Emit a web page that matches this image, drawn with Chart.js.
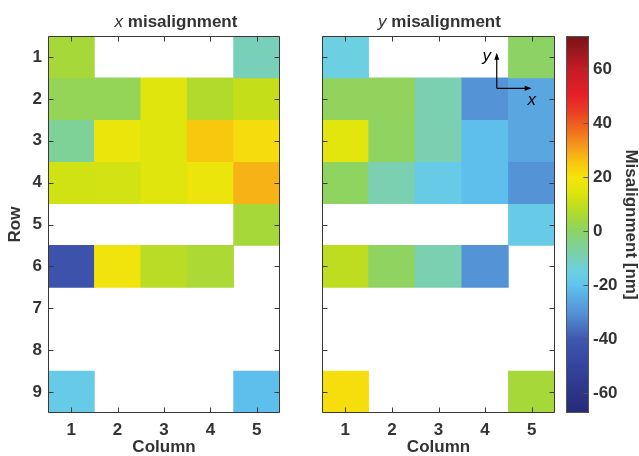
<!DOCTYPE html>
<html>
<head>
<meta charset="utf-8">
<script src="https://cdn.jsdelivr.net/npm/chart.js@4.4.1/dist/chart.umd.min.js"></script>
<style>
  html, body { margin: 0; padding: 0; background: #fff; }
  #wrap { position: relative; width: 639px; height: 456px; }
  #wrap canvas { position: absolute; left: 0; top: 0; }
</style>
</head>
<body>
<div id="wrap">
  <canvas id="cx" width="639" height="456"></canvas>
  <canvas id="cy" width="639" height="456"></canvas>
  <canvas id="cb" width="639" height="456"></canvas>
</div>
<script>
// Die grid: 5 columns x 9 rows, misalignment in nm (null = no measurement)
const columns = ['1', '2', '3', '4', '5'];
const rows = [1, 2, 3, 4, 5, 6, 7, 8, 9];

const xMisalignment = [
  [5,    null, null, null, -10],
  [1.5,  1.5,  14.5, 7,    10],
  [-6,   17.5, 14.5, 25,   21.5],
  [12,   12.5, 14.5, 17.5, 28],
  [null, null, null, null, 5],
  [-43,  19,   8.5,  6,    null],
  [null, null, null, null, null],
  [null, null, null, null, null],
  [-17,  null, null, null, -21]
];

const yMisalignment = [
  [-15,  null, null, null, 0],
  [1,    1,    -9,   -30,  -26],
  [15,   0.5,  -9,   -21,  -26],
  [0.5,  -9,   -17,  -21,  -30],
  [null, null, null, null, -17],
  [9,    0.5,  -9,   -30,  null],
  [null, null, null, null, null],
  [null, null, null, null, null],
  [21,   null, null, null, 5]
];

// Colour bar
const cbRange = [-67.4, 72.2];
const cbTicks = [-60, -40, -20, 0, 20, 40, 60];
const cmapValues = [-67.4, -60, -50, -40, -30, -25, -20, -15, -10, -5, 0, 5, 10, 15, 20, 25, 30, 35, 40, 45, 50, 60, 72.2];
const cmapColors = ['#262a78', '#2c3588', '#34449e', '#3f58b0', '#5494d6', '#5aaae2', '#60c4ee', '#6ccfe2',
                    '#78d0b8', '#80d290', '#8cd264', '#a6d83a', '#c4de1a', '#e2e60c', '#f4e40c', '#f8c80e',
                    '#f6a41a', '#f27e1e', '#ee5a20', '#ea3a24', '#e82028', '#c41c24', '#761418'];

const FONT = '"Liberation Sans", Arial, Helvetica, sans-serif';
const TEXT = '#333333';
const AXIS = '#3d3838';

function hexToRgb(h) {
  return [parseInt(h.slice(1, 3), 16), parseInt(h.slice(3, 5), 16), parseInt(h.slice(5, 7), 16)];
}
function colorFor(v) {
  if (v <= cmapValues[0]) return cmapColors[0];
  for (let i = 1; i < cmapValues.length; i++) {
    if (v <= cmapValues[i]) {
      const t = (v - cmapValues[i - 1]) / (cmapValues[i] - cmapValues[i - 1]);
      const a = hexToRgb(cmapColors[i - 1]), b = hexToRgb(cmapColors[i]);
      const c = a.map((x, k) => Math.round(x + (b[k] - x) * t));
      return `rgb(${c[0]},${c[1]},${c[2]})`;
    }
  }
  return cmapColors[cmapColors.length - 1];
}

function heatDatasets(grid) {
  return rows.map((r, ri) => ({
    label: 'Row ' + r,
    data: grid[ri].map(v => (v === null ? null : [r - 0.5, r + 0.5])),
    backgroundColor: grid[ri].map(v => (v === null ? 'rgba(0,0,0,0)' : colorFor(v))),
    borderWidth: 0,
    grouped: false,
    barPercentage: 1,
    categoryPercentage: 1
  }));
}

// Box around the plot area with inward tick marks
const framePlugin = {
  id: 'frame',
  afterDatasetsDraw(chart, args, opts) {
    const { ctx, chartArea: a, scales } = chart;
    ctx.save();
    ctx.strokeStyle = opts.color || AXIS;
    ctx.lineWidth = 1;
    const L = Math.round(a.left) + 0.5, R = Math.round(a.right) - 0.5;
    const T = Math.round(a.top) + 0.5, B = Math.round(a.bottom) - 0.5;
    ctx.beginPath();
    ctx.rect(L, T, R - L, B - T);
    ctx.stroke();
    const len = 5;
    ctx.beginPath();
    if (opts.xTicks) {
      scales.x.ticks.forEach((t, i) => {
        const px = Math.round(scales.x.getPixelForTick(i)) + 0.5;
        ctx.moveTo(px, T); ctx.lineTo(px, T + len);
        ctx.moveTo(px, B); ctx.lineTo(px, B - len);
      });
    }
    scales.y.ticks.forEach(t => {
      const py = Math.round(scales.y.getPixelForValue(t.value)) + 0.5;
      if (opts.leftTicks) { ctx.moveTo(L, py); ctx.lineTo(L + len, py); }
      ctx.moveTo(R, py); ctx.lineTo(R - len, py);
    });
    ctx.stroke();
    ctx.restore();
  }
};

// Panel heading: italic axis letter followed by bold text
const headingPlugin = {
  id: 'heading',
  afterDraw(chart, args, opts) {
    if (!opts.letter) return;
    const { ctx } = chart;
    ctx.save();
    ctx.fillStyle = TEXT;
    ctx.textBaseline = 'alphabetic';
    ctx.textAlign = 'left';
    const f1 = `italic 17px ${FONT}`, f2 = `bold 17px ${FONT}`;
    ctx.font = f1; const w1 = ctx.measureText(opts.letter).width;
    ctx.font = f2; const w2 = ctx.measureText(' ' + opts.text).width;
    let x = opts.cx - (w1 + w2) / 2;
    ctx.font = f1; ctx.fillText(opts.letter, x, opts.y);
    ctx.font = f2; ctx.fillText(' ' + opts.text, x + w1, opts.y);
    ctx.restore();
  }
};

// Coordinate-system inset (x to the right, y upward)
const axesInsetPlugin = {
  id: 'axesInset',
  afterDatasetsDraw(chart, args, opts) {
    if (!opts.origin) return;
    const { ctx, scales } = chart;
    const ox = scales.x.getPixelForValue(opts.origin[0]), oy = scales.y.getPixelForValue(opts.origin[1]);
    const xt = scales.x.getPixelForValue(opts.xTip), yt = scales.y.getPixelForValue(opts.yTip);
    ctx.save();
    ctx.strokeStyle = '#000'; ctx.fillStyle = '#000'; ctx.lineWidth = 1.2;
    ctx.beginPath();
    ctx.moveTo(ox, oy); ctx.lineTo(xt - 5, oy);
    ctx.moveTo(ox, oy); ctx.lineTo(ox, yt + 5);
    ctx.stroke();
    ctx.beginPath();
    ctx.moveTo(xt, oy); ctx.lineTo(xt - 7, oy - 2.5); ctx.lineTo(xt - 7, oy + 2.5); ctx.closePath();
    ctx.moveTo(ox, yt); ctx.lineTo(ox - 2.5, yt + 7); ctx.lineTo(ox + 2.5, yt + 7); ctx.closePath();
    ctx.fill();
    ctx.font = `italic 17px ${FONT}`;
    ctx.textAlign = 'center'; ctx.textBaseline = 'middle';
    ctx.fillText('x', xt, oy + 12);
    ctx.fillText('y', ox - 10, yt + 4);
    ctx.restore();
  }
};

const tickFont = { family: FONT, size: 17, weight: 'bold' };
const titleFont = { family: FONT, size: 17, weight: 'bold', lineHeight: 1 };

function heatConfig(grid, opts) {
  return {
    type: 'bar',
    data: { labels: columns, datasets: heatDatasets(grid) },
    options: {
      responsive: false,
      animation: false,
      events: [],
      layout: { padding: { left: opts.padLeft, right: opts.padRight, top: 36, bottom: 0 } },
      plugins: {
        legend: { display: false },
        tooltip: { enabled: false },
        frame: { xTicks: true, leftTicks: true },
        heading: opts.heading,
        axesInset: opts.inset || {}
      },
      scales: {
        x: {
          type: 'category',
          offset: true,
          grid: { display: false, drawTicks: false },
          border: { display: false },
          ticks: { font: tickFont, color: TEXT, padding: 7 },
          title: { display: true, text: 'Column', font: titleFont, color: TEXT, padding: { top: 0, bottom: 0 } },
          afterFit(s) { s.height = 43; }
        },
        y: {
          type: 'linear',
          reverse: true,
          min: 0.5,
          max: 9.5,
          grid: { display: false, drawTicks: false },
          border: { display: false },
          afterBuildTicks(s) { s.ticks = rows.map(v => ({ value: v })); },
          ticks: { display: opts.showRows, font: tickFont, color: TEXT, padding: 6 },
          title: { display: opts.showRows, text: 'Row', font: titleFont, color: TEXT, padding: { top: 7, bottom: 0 } },
          afterFit(s) { s.width = opts.yWidth; }
        }
      }
    },
    plugins: [framePlugin, headingPlugin, axesInsetPlugin]
  };
}

new Chart(document.getElementById('cx'), heatConfig(xMisalignment, {
  padLeft: 0, padRight: 359, yWidth: 48, showRows: true,
  heading: { letter: 'x', text: 'misalignment', cx: 176, y: 27 }
}));

new Chart(document.getElementById('cy'), heatConfig(yMisalignment, {
  padLeft: 322, padRight: 84, yWidth: 0, showRows: false,
  heading: { letter: 'y', text: 'misalignment', cx: 439.5, y: 27 },
  inset: { origin: [3.25, 1.75], xTip: 4.0, yTip: 0.9 }
}));

new Chart(document.getElementById('cb'), {
  type: 'bar',
  data: {
    labels: ['nm'],
    datasets: [{
      data: [cbRange],
      backgroundColor(c) {
        const ch = c.chart;
        if (!ch.chartArea) return cmapColors[0];
        const ys = ch.scales.y;
        const g = ch.ctx.createLinearGradient(0, ys.getPixelForValue(cbRange[0]), 0, ys.getPixelForValue(cbRange[1]));
        cmapValues.forEach((v, i) => g.addColorStop((v - cbRange[0]) / (cbRange[1] - cbRange[0]), cmapColors[i]));
        return g;
      },
      borderWidth: 0,
      barPercentage: 1,
      categoryPercentage: 1
    }]
  },
  options: {
    responsive: false,
    animation: false,
    events: [],
    layout: { padding: { left: 566, right: 0, top: 36, bottom: 43 } },
    plugins: {
      legend: { display: false },
      tooltip: { enabled: false },
      frame: { xTicks: false, leftTicks: false, color: '#555555' }
    },
    scales: {
      x: { display: false, offset: true },
      y: {
        position: 'right',
        min: cbRange[0],
        max: cbRange[1],
        grid: { display: false, drawTicks: false },
        border: { display: false },
        afterBuildTicks(s) { s.ticks = cbTicks.map(v => ({ value: v })); },
        ticks: { font: tickFont, color: TEXT, padding: 4 },
        title: { display: true, text: 'Misalignment [nm]', font: titleFont, color: TEXT, padding: { top: 0, bottom: 0 } },
        afterFit(s) { s.width = 50; }
      }
    }
  },
  plugins: [framePlugin]
});
</script>
</body>
</html>
